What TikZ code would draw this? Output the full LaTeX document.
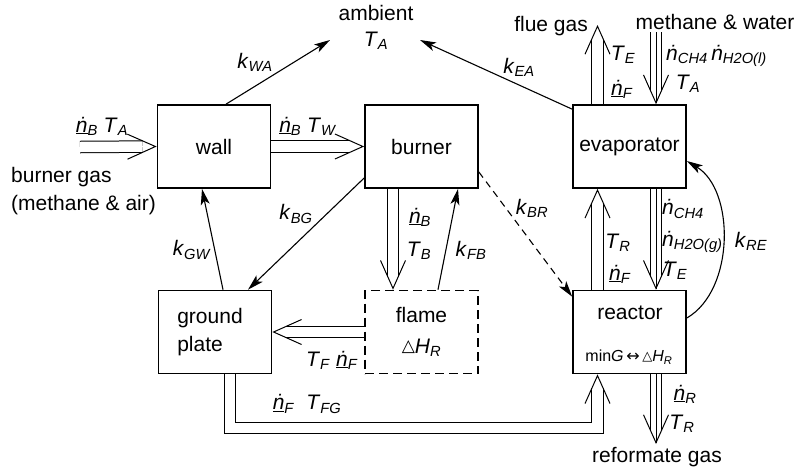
\documentclass[tikz,border=0pt]{standalone}
\usepackage{fontspec}
\setmainfont{Liberation Sans}
\newfontfamily\djv{DejaVu Sans}
\usetikzlibrary{arrows.meta,calc}
\pgfdeclarelayer{bg}
\pgfsetlayers{bg,main}

\newcommand{\vsb}[2]{\textit{#1}\textsubscript{\textit{#2}}}
\newcommand{\ndt}[1]{\textit{\.n}\textsubscript{\textit{#1}}}
\newcommand{\ndu}[1]{\underline{\textit{\.n}}\textsubscript{\textit{#1}}}
\newcommand{\myDH}{\raisebox{2pt}{\djv\fontsize{17}{17}\selectfont △}\vsb{H}{R}}

\tikzset{
  box/.style={draw, line width=1.7pt, minimum width=113pt, minimum height=83pt, inner sep=0pt,
    font=\fontsize{21}{25}\selectfont},
  lbl/.style={inner sep=1pt, font=\fontsize{21}{25}\selectfont},
  conn/.style={line width=1.1pt, -{Stealth[length=16pt,width=9pt,inset=4pt]}},
  flow/.style={double, double distance=10.5pt, line width=1pt, shorten >=14pt,
    postaction={draw=white, line width=1pt, shorten >=0pt,
      -{Straight Barb[length=28pt,width=25pt,color=black,line width=1pt]}}},
  tflow/.style={flow, postaction={draw=black, line width=1pt, shorten >=1pt}},
  dsh/.style={dash pattern=on 9pt off 5pt},
}

\begin{document}
\begin{tikzpicture}[x=1pt,y=-1pt]
\begin{pgfonlayer}{bg}
\fill[white] (0,0) rectangle (800,472);
\end{pgfonlayer}
\useasboundingbox (0,0) rectangle (800,472);

% boxes
\node[box] (wall) at (214,146.5) {wall};
\node[box] (burner) at (421.5,146.5) {burner};
\node[box] (evap) at (629.5,146.5) {evaporator};
\node[box, align=left] (ground) at (215,332) {ground\hspace*{10pt}\\[3pt]plate};
\node[box, dsh, align=center] (flame) at (421.5,332) {flame\\[6pt]\myDH};
\node[box] (reactor) at (629.5,332) {};
\node[lbl] (reacttxt) at (630,313) {reactor};
\node[lbl, font=\fontsize{16}{19}\selectfont] (minG) at (629,357)
  {min\textit{G}\,{\djv ↔}\,\raisebox{1.5pt}{\djv\fontsize{13}{13}\selectfont △}\vsb{H}{R}};

% outside texts
\node[lbl, align=center] (amb) at (376,27) {ambient\\[1pt]\vsb{T}{A}};
\coordinate (ambL) at (330,40);
\coordinate (ambR) at (420,40);
\node[lbl, align=left, anchor=west] (gastxt) at (10,191) {burner gas\\[3pt](methane \& air)};
\node[lbl, anchor=east] (fluetxt) at (589,26) {flue gas};
\node[lbl] (mwtxt) at (715,22) {methane \& water};
\node[lbl] (reftxt) at (657,457) {reformate gas};

\coordinate (gasin) at (80,147);
\coordinate (flue) at (597.5,25);
\coordinate (mwin) at (656,32);
\coordinate (refout) at (656,444);

\begin{pgfonlayer}{bg}
% heat connectors
\draw[conn] ([xshift=12pt]wall.north) -- (ambL);
\draw[conn] ([yshift=-5pt]evap.north west) -- (ambR);
\draw[conn] ([xshift=8pt]ground.north) -- ([xshift=-12pt]wall.south);
\draw[conn] ([yshift=-31.5pt]burner.west) -- ([xshift=33pt]ground.north);
\draw[conn] ([xshift=16.5pt]flame.north) -- ([xshift=36.5pt]burner.south);
\draw[conn, dash pattern=on 7pt off 5pt] ([yshift=-25.5pt]burner.east) -- ([yshift=-7pt]reactor.north west);
\draw[conn] ([yshift=14pt]reactor.east) .. controls (735,290) and (735,190) .. ([yshift=-14.5pt]evap.east);

% mass flows
\draw[flow] (gasin) -- (wall.west);
\draw[flow] (wall.east) -- (burner.west);
\draw[flow] ([xshift=-28.5pt]burner.south) -- ([xshift=-28.5pt]flame.north);
\draw[flow] (flame.west) -- (ground.east);
\draw[flow] ([xshift=15pt]ground.south) -- ++(0,53.5) -| ([xshift=-32pt]reactor.south);
\draw[flow] ([xshift=-32pt]reactor.north) -- ([xshift=-32pt]evap.south);
\draw[flow] ([xshift=-32pt]evap.north) -- (flue);
\draw[tflow] (mwin) -- ([xshift=26.5pt]evap.north);
\draw[tflow] ([xshift=26.5pt]evap.south) -- ([xshift=26.5pt]reactor.north);
\draw[tflow] ([xshift=26.5pt]reactor.south) -- (refout);
\end{pgfonlayer}

% connector labels
\node[lbl] (lWA) at (255,62) {\vsb{k}{WA}};
\node[lbl] (lEA) at (519,67) {\vsb{k}{EA}};
\node[lbl] (lGW) at (192,250) {\vsb{k}{GW}};
\node[lbl] (lBG) at (296,214) {\vsb{k}{BG}};
\node[lbl] (lFB) at (471,250) {\vsb{k}{FB}};
\node[lbl] (lBR) at (532,208) {\vsb{k}{BR}};
\node[lbl] (lRE) at (751,241) {\vsb{k}{RE}};

% flow labels
\node[lbl] (f1) at (102,126) {\ndu{B}\ \vsb{T}{A}};
\node[lbl] (f2) at (308,126) {\ndu{B}\ \vsb{T}{W}};
\node[lbl] (f3a) at (420,217) {\ndu{B}};
\node[lbl] (f3b) at (419,251) {\vsb{T}{B}};
\node[lbl] (f4) at (332,360) {\vsb{T}{F}\ \ndu{F}};
\node[lbl] (f5) at (307,404) {\ndu{F}\ \ \vsb{T}{FG}};
\node[lbl] (f6a) at (618,243) {\vsb{T}{R}};
\node[lbl] (f6b) at (620,274) {\ndu{F}};
\node[lbl] (f7a) at (623,55) {\vsb{T}{E}};
\node[lbl] (f7b) at (622,89) {\ndu{F}};
\node[lbl, anchor=west] (f8a) at (665,56) {\ndt{CH4}\,\ndt{H2O(l)}};
\node[lbl] (f8b) at (688,84) {\vsb{T}{A}};
\node[lbl, anchor=west] (f9a) at (661,209) {\ndt{CH4}};
\node[lbl, anchor=west] (f9b) at (661,242) {\ndt{H2O(g)}};
\node[lbl] (f9c) at (675,271) {\vsb{T}{E}};
\node[lbl] (f10a) at (685,394) {\ndu{R}};
\node[lbl] (f10b) at (682,424) {\vsb{T}{R}};
\end{tikzpicture}
\end{document}
